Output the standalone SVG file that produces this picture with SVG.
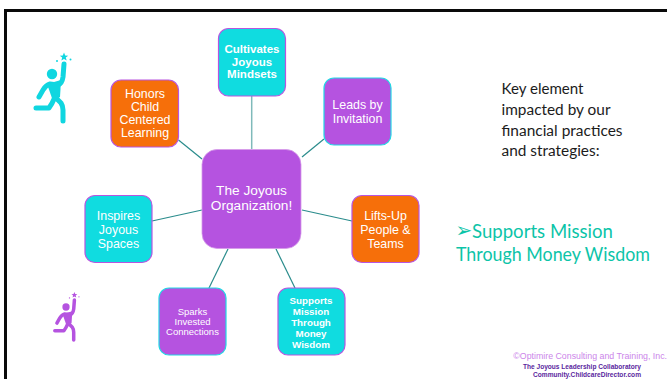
<svg xmlns="http://www.w3.org/2000/svg" width="667" height="379" viewBox="0 0 667 379">
<style>
text{font-family:"Liberation Sans",Arial,sans-serif;text-anchor:middle}
.n{stroke-width:1.2}
.cy{fill:#10dce0;stroke:#b755e0}
.pu{fill:#b553e0;stroke:#22d8e4}
.or{fill:#f66f0a;stroke:#b755e0}
.t{fill:#fff;font-size:12.4px}
.b{fill:#fff;font-weight:700}
.c{stroke:#2a8c8c;stroke-width:1.2;fill:none}
.k{font-family:"Lato","Noto Sans",sans-serif;fill:#1c1c1c;font-size:15.500px;text-anchor:start}
.h{font-family:"Lato","Noto Sans",sans-serif;fill:#0cc4a8;font-size:19px;text-anchor:start}
</style>
<defs>
<g id="runner">
<circle cx="52" cy="74" r="5.200"/>
<path d="M64 64 L63 77 Q62 84 58 85 L50 84 Q46 85 43 90 L39 97 M56 85 L55 97 Q52 104 49 108 L36 108 M55 97 L61 103 Q63 106 63 110 L63 121" fill="none" stroke="currentColor" stroke-width="5" stroke-linecap="round" stroke-linejoin="round"/>
<path d="M47 84 L61 80 L60 97 L53 101 Z"/>
<path d="M64 52.500 L65.200 55.500 L68.200 55.700 L65.800 57.600 L66.700 60.500 L64 58.900 L61.300 60.500 L62.200 57.600 L59.800 55.700 L62.800 55.500 Z"/>
<circle cx="57" cy="61" r="1"/><circle cx="70.500" cy="59.500" r="1"/>
</g>
</defs>
<rect width="667" height="379" fill="#fff"/>
<path d="M667 10.500 H5.500 V379" fill="none" stroke="#0a0a0a" stroke-width="3"/>
<g id="connectors">
<path class="c" d="M251.700 96 V149" stroke-opacity=".6" style="stroke-width:1.500"/>
<path class="c" d="M324 139 L302 157"/>
<path class="c" d="M178.500 140 L202 159"/>
<path class="c" d="M152 221 L202 210"/>
<path class="c" d="M209 288 L228 249"/>
<path class="c" d="M295 288 L276 249"/>
<path class="c" d="M352 221 L302 210"/>
</g>
<g id="node-cultivates"><rect class="n cy" x="218.500" y="28.500" width="67" height="67.500" rx="10"/>
<text class="b" font-size="11.500" x="252" y="53">Cultivates</text><text class="b" font-size="11.500" x="252" y="66">Joyous</text><text class="b" font-size="11.500" x="252" y="78">Mindsets</text></g>
<g id="node-leads"><rect class="n pu" x="324" y="78" width="67" height="67" rx="10"/>
<text class="t" x="357.500" y="109">Leads by</text><text class="t" x="357.500" y="123">Invitation</text></g>
<g id="node-honors"><rect class="n or" x="111" y="80" width="67.500" height="67" rx="10"/>
<text class="t" x="145" y="98">Honors</text><text class="t" x="145" y="111">Child</text><text class="t" x="145" y="124">Centered</text><text class="t" x="145" y="137">Learning</text></g>
<g id="node-center"><rect x="202" y="149.500" width="99" height="99" rx="15" fill="#b553e0" stroke="#d59ae8" stroke-width=".8"/>
<text class="t" style="font-size:13.700px" x="251.500" y="195">The Joyous</text><text class="t" style="font-size:13.700px" x="251.500" y="209.500">Organization!</text></g>
<g id="node-lifts"><rect class="n or" x="352" y="195.500" width="67" height="67" rx="10"/>
<text class="t" x="385.500" y="220">Lifts-Up</text><text class="t" x="385.500" y="234">People &amp;</text><text class="t" x="385.500" y="248">Teams</text></g>
<g id="node-inspires"><rect class="n cy" x="85" y="195.500" width="67" height="67" rx="10"/>
<text class="t" x="118.500" y="220">Inspires</text><text class="t" x="118.500" y="234">Joyous</text><text class="t" x="118.500" y="248">Spaces</text></g>
<g id="node-sparks"><rect class="n pu" x="159" y="288" width="67" height="67" rx="10"/>
<text class="t" style="font-size:9.500px" x="192.500" y="315">Sparks</text><text class="t" style="font-size:9.500px" x="192.500" y="325">Invested</text><text class="t" style="font-size:9.500px" x="192.500" y="335">Connections</text></g>
<g id="node-supports"><rect class="n cy" x="278" y="288" width="67" height="67" rx="10"/>
<text class="b" font-size="9.800" x="311" y="303.500">Supports</text><text class="b" font-size="9.800" x="311" y="314.500">Mission</text><text class="b" font-size="9.800" x="311" y="325.500">Through</text><text class="b" font-size="9.800" x="311" y="336.500">Money</text><text class="b" font-size="9.800" x="311" y="347.500">Wisdom</text></g>
<use href="#runner" style="color:#10d6e0" fill="#10d6e0"/>
<use href="#runner" style="color:#b553e0" fill="#b553e0" transform="translate(29.600 255.200) scale(.7)"/>
<text class="k" x="501.500" y="93.500" textLength="82" lengthAdjust="spacingAndGlyphs">Key element</text>
<text class="k" x="501.500" y="114.500" textLength="109" lengthAdjust="spacingAndGlyphs">impacted by our</text>
<text class="k" x="501.500" y="135.500" textLength="121" lengthAdjust="spacingAndGlyphs">financial practices</text>
<text class="k" x="501.500" y="155.500" textLength="98" lengthAdjust="spacingAndGlyphs">and strategies:</text>
<text style="font-family:'DejaVu Sans',sans-serif;text-anchor:start;font-size:20px" fill="#0cc4a8" x="455.500" y="237">➢</text>
<text class="h" x="472" y="238" textLength="141" lengthAdjust="spacingAndGlyphs">Supports Mission</text>
<text class="h" x="456" y="261" textLength="194" lengthAdjust="spacingAndGlyphs">Through Money Wisdom</text>
<text style="text-anchor:end;font-size:8.800px" fill="#cc85ea" x="667" y="359">©Optimire Consulting and Training, Inc.</text>
<text style="font-size:6.500px;font-weight:700" fill="#5a1f9e" x="582" y="368.500" textLength="118" lengthAdjust="spacingAndGlyphs">The Joyous Leadership Collaboratory</text>
<text style="font-size:6.500px;font-weight:700" fill="#5a1f9e" x="587" y="377" textLength="108" lengthAdjust="spacingAndGlyphs">Community.ChildcareDirector.com</text>
</svg>
